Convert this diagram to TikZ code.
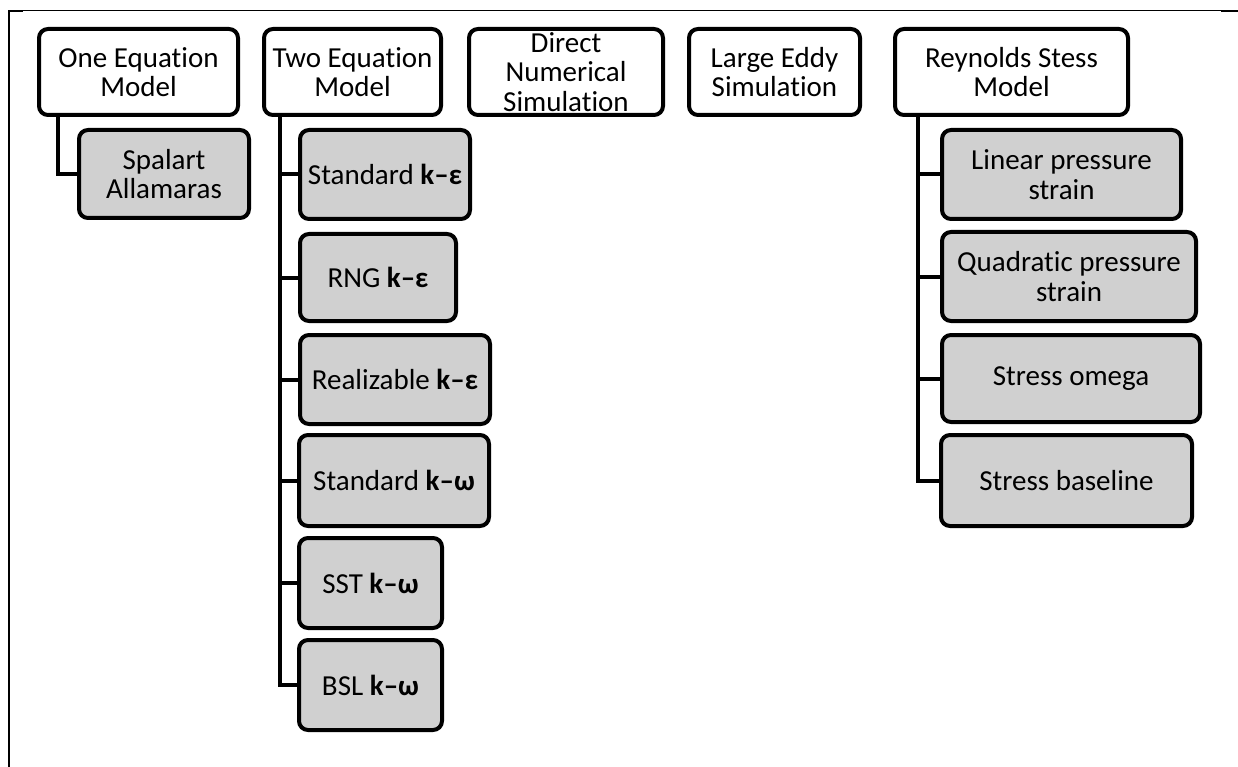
\documentclass[tikz,border=0pt]{standalone}
\usepackage{fontspec}
\setmainfont[Ligatures={NoCommon}]{Carlito}
\usetikzlibrary{calc}
\definecolor{boxgray}{RGB}{208,208,208}
\begin{document}
\begin{tikzpicture}[x=1pt,y=-1pt,
  basebox/.style={draw=black, line width=4pt, rounded corners=9pt, align=center, inner sep=0pt,
    font=\fontsize{29}{29.5}\selectfont},
  topbox/.style={basebox, fill=white},
  subbox/.style={basebox, fill=boxgray},
  conn/.style={draw=black, line width=4pt},
  frameline/.style={draw=black, line width=1.5pt}]
\useasboundingbox (0,0) rectangle (1238,767);
% frame
\draw[frameline] (9,767) -- (9,10.5) -- (1238,10.5);
\draw[line width=2.5pt] (9,11) -- (23,11);
\draw[line width=2.5pt] (1221,11) -- (1238,11);
% top-level boxes
\node[topbox, minimum width=199, minimum height=86] (one) at (138.5,72) {One Equation\\Model};
\node[topbox, minimum width=177, minimum height=86] (two) at (352.5,72) {Two Equation\\Model};
\node[topbox, minimum width=194, minimum height=86] (dns) at (566,72) {Direct\\Numerical\\Simulation};
\node[topbox, minimum width=171, minimum height=86] (les) at (774.5,72) {Large Eddy\\Simulation};
\node[topbox, minimum width=233, minimum height=86] (rsm) at (1011.5,72) {Reynolds Stess\\Model};
% one equation children
\node[subbox, minimum width=170, minimum height=88] (spal) at (164,174) {Spalart\\Allamaras};
% two equation children
\node[subbox, minimum width=170, minimum height=89] (ske) at (385,174.5) {Standard \textbf{k–ε}};
\node[subbox, minimum width=156, minimum height=87] (rng) at (378,277.5) {RNG \textbf{k–ε}};
\node[subbox, minimum width=190, minimum height=89] (rke) at (395,379.5) {Realizable \textbf{k–ε}};
\node[subbox, minimum width=190, minimum height=91] (skw) at (394,480.5) {Standard \textbf{k–ω}};
\node[subbox, minimum width=143, minimum height=90] (sst) at (370.5,583) {SST \textbf{k–ω}};
\node[subbox, minimum width=143, minimum height=90] (bsl) at (370.5,685) {BSL \textbf{k–ω}};
% reynolds stress children
\node[subbox, minimum width=239, minimum height=89] (lps) at (1061.5,174.5) {Linear pressure\\strain};
\node[subbox, minimum width=254, minimum height=89] (qps) at (1069,276.5) {Quadratic pressure\\strain};
\node[subbox, minimum width=258, minimum height=87] (som) at (1071,378.5) {Stress omega};
\node[subbox, minimum width=251, minimum height=91] (sbl) at (1066.5,480.5) {Stress baseline};
% connectors
\coordinate (oneA) at ($(one.south west)+(21,0)$);
\coordinate (twoA) at ($(two.south west)+(18,0)$);
\coordinate (rsmA) at ($(rsm.south west)+(25,0)$);
\draw[conn] (oneA) |- (spal.west);
\foreach \c in {ske,rng,rke,skw,sst,bsl} {\draw[conn] (twoA) |- (\c.west);}
\foreach \c in {lps,qps,som,sbl} {\draw[conn] (rsmA) |- (\c.west);}
\end{tikzpicture}
\end{document}
